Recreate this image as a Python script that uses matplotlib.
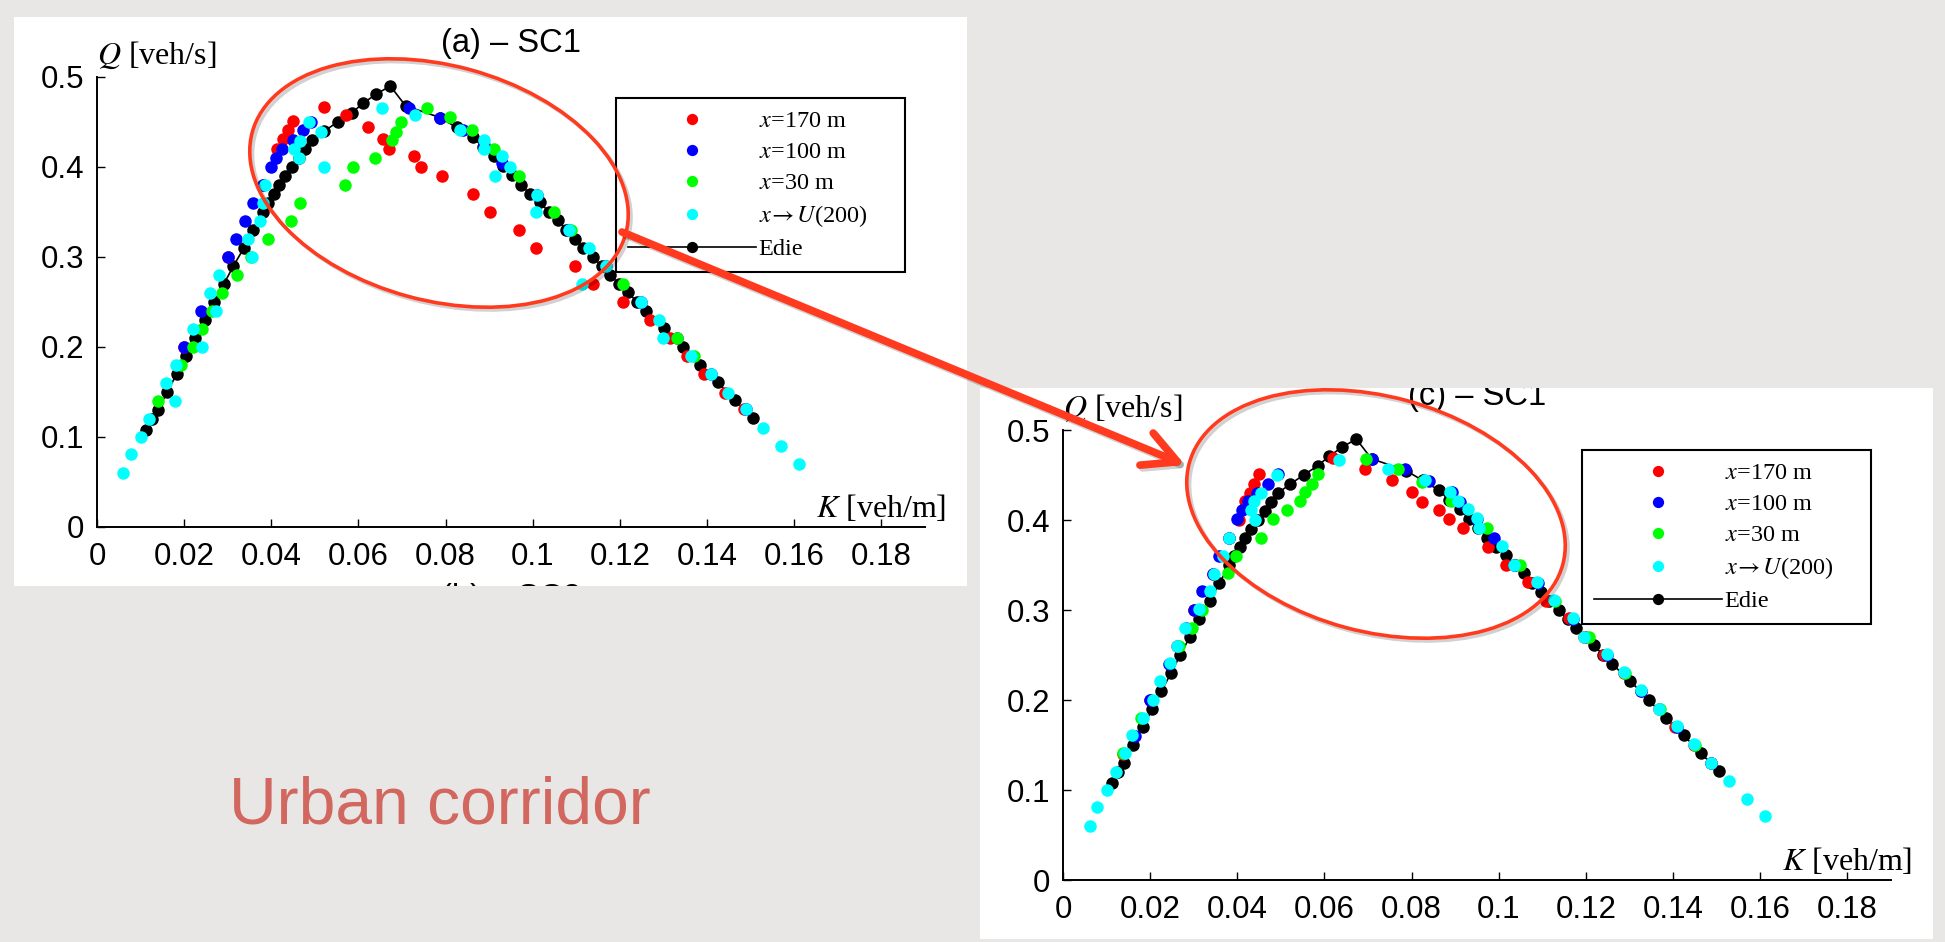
import matplotlib
matplotlib.use('Agg')
import matplotlib.pyplot as plt
from matplotlib.patches import Rectangle, Ellipse, FancyArrowPatch
from matplotlib.transforms import Affine2D, Bbox, TransformedBbox
import matplotlib.patheffects as pe

plt.rcParams['mathtext.fontset'] = 'stix'

# ---- data ----
series_labels = ['$x$=170 m', '$x$=100 m', '$x$=30 m', '$x\\!\\rightarrow U$(200)', 'Edie']
series_colors = ['#ff0000', '#0000ff', '#00ff00', '#00ffff']

xtick_vals = [0, 0.02, 0.04, 0.06, 0.08, 0.1, 0.12, 0.14, 0.16, 0.18]
xtick_labels = ['0', '0.02', '0.04', '0.06', '0.08', '0.1', '0.12', '0.14', '0.16', '0.18']
ytick_vals = [0, 0.1, 0.2, 0.3, 0.4, 0.5]
ytick_labels = ['0', '0.1', '0.2', '0.3', '0.4', '0.5']

# Edie estimate (same in both panels)
edie_k = [0.0113, 0.0127, 0.0140, 0.0161, 0.0183, 0.0205, 0.0226, 0.0248, 0.0269, 0.0291,
          0.0313, 0.0337, 0.0359, 0.0382, 0.0393, 0.0406, 0.0418, 0.0431, 0.0447, 0.0463,
          0.0478, 0.0493, 0.0522, 0.0552, 0.0584, 0.0611, 0.0641, 0.0673,
          0.0708, 0.0787, 0.0825, 0.0863, 0.0886, 0.0911, 0.0932, 0.0953, 0.0973, 0.0994,
          0.1016, 0.1037, 0.1058, 0.1077, 0.1096, 0.1115, 0.1138, 0.1158, 0.1178, 0.1198,
          0.1218, 0.1239, 0.1260, 0.1302, 0.1344, 0.1383, 0.1424, 0.1463, 0.1506]
edie_q = [0.108, 0.120, 0.130, 0.150, 0.170, 0.190, 0.210, 0.230, 0.250, 0.270,
          0.290, 0.310, 0.330, 0.350, 0.360, 0.370, 0.380, 0.390, 0.400, 0.410,
          0.420, 0.430, 0.440, 0.450, 0.460, 0.471, 0.481, 0.490,
          0.468, 0.455, 0.444, 0.433, 0.422, 0.412, 0.401, 0.391, 0.380, 0.370,
          0.361, 0.350, 0.341, 0.330, 0.320, 0.310, 0.300, 0.290, 0.280, 0.270,
          0.261, 0.250, 0.240, 0.221, 0.200, 0.180, 0.161, 0.141, 0.121]

# panel (a)
a_red_k = [0.0200, 0.0300, 0.0382, 0.0413, 0.0427, 0.0438, 0.0449, 0.0522, 0.0572, 0.0621,
           0.0656, 0.0670, 0.0728, 0.0744, 0.0792, 0.0862, 0.0902, 0.0968, 0.1007, 0.1098,
           0.1138, 0.1208, 0.1270, 0.1316, 0.1354, 0.1393, 0.1440, 0.1485]
a_red_q = [0.200, 0.300, 0.380, 0.420, 0.431, 0.441, 0.451, 0.467, 0.458, 0.444,
           0.431, 0.420, 0.412, 0.400, 0.390, 0.370, 0.350, 0.330, 0.310, 0.290,
           0.270, 0.250, 0.230, 0.210, 0.190, 0.170, 0.149, 0.131]
a_blue_k = [0.0199, 0.0239, 0.0301, 0.0319, 0.0340, 0.0358, 0.0382, 0.0399, 0.0410, 0.0424,
            0.0449, 0.0472, 0.0490, 0.0715, 0.0787, 0.0840, 0.0888, 0.0930, 0.1010, 0.1084,
            0.1169, 0.1249, 0.1330, 0.1409, 0.1489]
a_blue_q = [0.200, 0.240, 0.300, 0.320, 0.340, 0.360, 0.380, 0.400, 0.410, 0.420,
            0.430, 0.441, 0.450, 0.466, 0.455, 0.441, 0.425, 0.405, 0.369, 0.330,
            0.290, 0.250, 0.210, 0.170, 0.131]
a_green_k = [0.0139, 0.0192, 0.0221, 0.0242, 0.0263, 0.0287, 0.0322, 0.0354, 0.0392, 0.0445,
             0.0466, 0.0569, 0.0588, 0.0638, 0.0677, 0.0685, 0.0698, 0.0758, 0.0810, 0.0860,
             0.0910, 0.0969, 0.1049, 0.1087, 0.1208, 0.1330, 0.1369]
a_green_q = [0.140, 0.180, 0.200, 0.220, 0.240, 0.260, 0.280, 0.300, 0.320, 0.340,
             0.360, 0.380, 0.400, 0.410, 0.430, 0.439, 0.450, 0.466, 0.456, 0.441,
             0.420, 0.390, 0.350, 0.330, 0.270, 0.210, 0.190]
a_cyan_k = [0.0060, 0.0079, 0.0100, 0.0119, 0.0178, 0.0159, 0.0181, 0.0240, 0.0221, 0.0272,
            0.0260, 0.0279, 0.0355, 0.0347, 0.0375, 0.0380, 0.0386, 0.0520, 0.0463, 0.0452,
            0.0466, 0.0513, 0.0487, 0.0653, 0.0729, 0.0834, 0.0888, 0.0888, 0.0930, 0.0948,
            0.0913, 0.1010, 0.1007, 0.1084, 0.1129, 0.1169, 0.1112, 0.1249, 0.1289, 0.1298,
            0.1362, 0.1409, 0.1449, 0.1489, 0.1528, 0.1570, 0.1611]
a_cyan_q = [0.060, 0.081, 0.100, 0.120, 0.140, 0.160, 0.180, 0.200, 0.220, 0.240,
            0.260, 0.280, 0.300, 0.320, 0.340, 0.360, 0.380, 0.400, 0.410, 0.420,
            0.429, 0.439, 0.450, 0.466, 0.458, 0.441, 0.430, 0.420, 0.412, 0.400,
            0.390, 0.369, 0.350, 0.330, 0.310, 0.290, 0.270, 0.250, 0.230, 0.210,
            0.190, 0.170, 0.149, 0.131, 0.110, 0.090, 0.070]

# panel (c)
c_red_k = [0.0137, 0.0200, 0.0262, 0.0300, 0.0345, 0.0380, 0.0405, 0.0418, 0.0428, 0.0438,
           0.0450, 0.0620, 0.0692, 0.0756, 0.0800, 0.0824, 0.0863, 0.0886, 0.0918, 0.0976,
           0.1016, 0.1066, 0.1108, 0.1160, 0.1196, 0.1242, 0.1288, 0.1326, 0.1367, 0.1405,
           0.1448, 0.1488]
c_red_q = [0.140, 0.200, 0.260, 0.300, 0.340, 0.380, 0.400, 0.421, 0.430, 0.440,
           0.451, 0.469, 0.457, 0.444, 0.431, 0.420, 0.411, 0.401, 0.391, 0.370,
           0.350, 0.331, 0.310, 0.291, 0.270, 0.250, 0.230, 0.210, 0.190, 0.170,
           0.150, 0.130]
c_blue_k = [0.0165, 0.0200, 0.0243, 0.0283, 0.0301, 0.0320, 0.0345, 0.0359, 0.0381, 0.0399,
            0.0411, 0.0425, 0.0445, 0.0471, 0.0493, 0.0709, 0.0785, 0.0839, 0.0893, 0.0910,
            0.0950, 0.0990, 0.1036, 0.1090, 0.1170, 0.1249, 0.1326, 0.1408, 0.1488]
c_blue_q = [0.160, 0.200, 0.240, 0.280, 0.300, 0.321, 0.340, 0.360, 0.380, 0.401,
            0.411, 0.421, 0.430, 0.440, 0.451, 0.468, 0.457, 0.443, 0.431, 0.420,
            0.401, 0.380, 0.350, 0.330, 0.290, 0.250, 0.210, 0.170, 0.130]
c_green_k = [0.0137, 0.0180, 0.0267, 0.0295, 0.0320, 0.0378, 0.0396, 0.0454, 0.0481, 0.0514,
             0.0543, 0.0555, 0.0572, 0.0586, 0.0696, 0.0769, 0.0824, 0.0890, 0.0973, 0.1048,
             0.1130, 0.1206, 0.1290, 0.1369, 0.1450]
c_green_q = [0.141, 0.180, 0.260, 0.280, 0.300, 0.341, 0.360, 0.380, 0.401, 0.411,
             0.421, 0.431, 0.440, 0.451, 0.468, 0.457, 0.442, 0.421, 0.391, 0.350,
             0.310, 0.270, 0.230, 0.190, 0.150]
c_cyan_k = [0.0061, 0.0079, 0.0101, 0.0121, 0.0143, 0.0159, 0.0183, 0.0207, 0.0223, 0.0245,
            0.0262, 0.0281, 0.0313, 0.0337, 0.0346, 0.0367, 0.0382, 0.0440, 0.0431, 0.0439,
            0.0454, 0.0490, 0.0634, 0.0745, 0.0831, 0.0889, 0.0906, 0.0929, 0.0950, 0.0954,
            0.1007, 0.1036, 0.1088, 0.1127, 0.1170, 0.1196, 0.1249, 0.1288, 0.1326, 0.1367,
            0.1408, 0.1448, 0.1488, 0.1529, 0.1569, 0.1610]
c_cyan_q = [0.060, 0.081, 0.100, 0.120, 0.141, 0.161, 0.180, 0.200, 0.221, 0.241,
            0.260, 0.280, 0.301, 0.321, 0.340, 0.360, 0.380, 0.400, 0.411, 0.421,
            0.430, 0.450, 0.467, 0.457, 0.444, 0.431, 0.421, 0.412, 0.402, 0.391,
            0.371, 0.350, 0.331, 0.311, 0.291, 0.270, 0.251, 0.231, 0.211, 0.190,
            0.171, 0.151, 0.130, 0.110, 0.090, 0.071]

# ---- layout (pixels, origin top-left) ----
W, H = 1945, 942
BG = '#e8e7e5'
RED = '#ff3a1e'
fig = plt.figure(figsize=(W / 100, H / 100), dpi=100, facecolor=BG)
pix = Affine2D().scale(1, -1).translate(0, H)


def fig_box(x0, y0, x1, y1):
    return [x0 / W, 1 - y1 / H, (x1 - x0) / W, (y1 - y0) / H]


def clip_bbox(x0, y0, x1, y1):
    return TransformedBbox(Bbox.from_extents(x0, H - y1, x1, H - y0), Affine2D())


def panel(rect, ax_rect, leg_xy, title, bottom_title, data):
    x0, y0, x1, y1 = rect
    fig.add_artist(Rectangle((x0, y0), x1 - x0, y1 - y0, transform=pix,
                             facecolor='white', edgecolor='none', zorder=-5))
    ax = fig.add_axes(fig_box(*ax_rect))
    ax.set_facecolor('none')
    handles = []
    (e,) = ax.plot(edie_k, edie_q, '-o', color='k', ms=9, mew=0, lw=1.2, clip_on=False)
    for (k, q), c in zip(data, series_colors):
        (h,) = ax.plot(k, q, 'o', ls='none', color=c, ms=9, mew=0, clip_on=False)
        handles.append(h)
    handles.append(e)

    ax.set_xlim(0, 0.19)
    ax.set_ylim(0, 0.5)
    for s in ['top', 'right']:
        ax.spines[s].set_visible(False)
    for s in ['left', 'bottom']:
        ax.spines[s].set_linewidth(1.4)
    ax.set_xticks(xtick_vals, xtick_labels)
    ax.set_yticks(ytick_vals, ytick_labels)
    ax.tick_params(direction='in', length=6, width=1, labelsize=22.5,
                   labelfontfamily='Liberation Sans')
    ax.tick_params(axis='x', pad=11)
    ax.tick_params(axis='y', pad=9)

    axw = ax_rect[2] - ax_rect[0]
    axh = ax_rect[3] - ax_rect[1]
    ax.text(0, 1 + 13 / axh, '$Q$ [veh/s]', transform=ax.transAxes, ha='left',
            va='baseline', fontsize=23, family='Liberation Serif')
    ax.text(1 + 21 / axw, 10 / axh, '$K$ [veh/m]', transform=ax.transAxes, ha='right',
            va='baseline', fontsize=23, family='Liberation Serif')
    cb = clip_bbox(*rect)
    t = ax.text(0.5, 1 + 25 / axh, title, transform=ax.transAxes, ha='center',
                va='baseline', fontsize=23.5, family='Liberation Sans')
    t.set_clip_box(cb)
    t.set_clip_on(True)
    if bottom_title:
        t2 = ax.text(0.5, -(80 / axh), bottom_title, transform=ax.transAxes, ha='center',
                     va='baseline', fontsize=23.5, family='Liberation Sans')
        t2.set_clip_box(cb)
        t2.set_clip_on(True)

    lx, ly = leg_xy
    leg = ax.legend(handles, series_labels, loc='upper left',
                    bbox_to_anchor=(lx / W, 1 - ly / H - 171 / H, 289 / W, 171 / H),
                    bbox_transform=fig.transFigure, mode='expand', borderaxespad=0,
                    prop={'family': ['Liberation Serif', 'DejaVu Serif'], 'size': 17.5},
                    handlelength=5.27, handletextpad=0.1, borderpad=0.5, labelspacing=0.37,
                    markerscale=0.9, numpoints=1, fancybox=False, framealpha=1,
                    edgecolor='k')
    leg.get_frame().set_linewidth(1.5)
    return ax


panel((14, 17, 967, 586), (97, 77, 925, 527), (616, 98), '(a) \u2013 SC1', '(b) \u2013 SC2',
      [(a_red_k, a_red_q), (a_blue_k, a_blue_q), (a_green_k, a_green_q), (a_cyan_k, a_cyan_q)])
panel((980, 388, 1933, 939), (1063, 430, 1891, 880), (1582, 450), '(c) \u2013 SC1', None,
      [(c_red_k, c_red_q), (c_blue_k, c_blue_q), (c_green_k, c_green_q), (c_cyan_k, c_cyan_q)])

# annotation ellipses and arrow
shadow = [pe.SimpleLineShadow(offset=(2, -2), shadow_color='k', alpha=0.18), pe.Normal()]
for cx, cy in [(439, 183), (1376, 514)]:
    el = Ellipse((cx, cy), 387, 235, angle=15.2, transform=pix, fill=False,
                 edgecolor=RED, lw=2.6, zorder=10)
    el.set_path_effects(shadow)
    fig.add_artist(el)

arr = FancyArrowPatch((622, 232), (1185, 465), transform=pix,
                      arrowstyle='->,head_length=24,head_width=12.5', mutation_scale=1,
                      color=RED, lw=5.5, shrinkA=0, shrinkB=0, capstyle='round',
                      joinstyle='round', zorder=11)
arr.set_path_effects(shadow)
fig.add_artist(arr)

fig.text(440 / W, 1 - 806 / H, 'Urban corridor', ha='center', va='center',
         fontsize=47.5, color='#d2675f', family='Liberation Sans')

fig.savefig('out.png', dpi=100, facecolor=BG)
